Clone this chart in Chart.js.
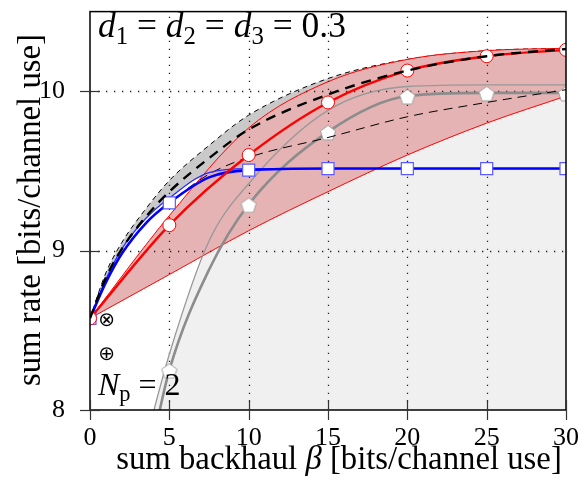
<!DOCTYPE html>
<html>
<head>
<meta charset="utf-8">
<script src="https://cdn.jsdelivr.net/npm/chart.js@4.4.1/dist/chart.umd.min.js"></script>
<style>
  html, body { margin: 0; padding: 0; background: #fff; }
</style>
</head>
<body>
<canvas id="rateChart" width="585" height="489"></canvas>
<script>
// ---- data ----
const xTicks = [0, 5, 10, 15, 20, 25, 30];
const yTicks = [8, 9, 10];

// coarse grid (markers at every 5)
const xsMark = [0, 5, 10, 15, 20, 25, 30];
const redCircles = [8.575, 9.16, 9.60, 9.93, 10.13, 10.22, 10.26];
const redUpper = [8.575, 9.22, 9.77, 10.06, 10.20, 10.255, 10.27];
const redLower = [8.575, 8.85, 9.125, 9.37, 9.60, 9.80, 9.97];

// finer grid for the curves that rise quickly near zero
const xsFine = [0, 1, 2, 3.5, 5, 7.5, 10, 15, 20, 25, 30];
const blackDashed = [8.575, 8.83, 9.01, 9.21, 9.37, 9.58, 9.76, 9.98, 10.13, 10.22, 10.265];
const grayTop = [8.575, 8.86, 9.05, 9.26, 9.44, 9.66, 9.85, 10.08, 10.20, 10.255, 10.27];
const blueSquares = [8.575, 8.80, 8.98, 9.17, 9.30, 9.46, 9.505, 9.515, 9.515, 9.515, 9.515];
const blueThin = [8.575, 8.82, 9.01, 9.20, 9.33, 9.49, 9.515, 9.515, 9.515, 9.515, 9.515];
const thinDashed = [8.575, 8.80, 8.98, 9.17, 9.30, 9.48, 9.585, 9.71, 9.84, 9.93, 10.01];

// gray curves, start below the axis
const xsGrayThick = [4, 5, 7.5, 10, 15, 20, 25, 30];
const grayThick = [7.82, 8.25, 8.88, 9.29, 9.745, 9.97, 9.99, 9.99];
const xsGrayThin = [3.5, 5, 7.5, 10, 15, 20, 25, 30];
const grayThin = [7.80, 8.35, 9.06, 9.42, 9.88, 10.03, 10.04, 10.04];

// the two symbols next to the origin
const symX = [1.05, 1.05];
const symY = [8.56, 8.345];
const symText = ['\u2297', '\u2295'];

const SERIF = '"Liberation Serif", "DejaVu Serif", serif';

function pts(xs, ys) {
    return xs.map((x, i) => ({ x: x, y: ys[i] }));
}

function markAt(xs, r) {
    return xs.map(x => (x % 5 === 0 ? r : 0));
}

// pentagon marker as an image
function pentagon(size) {
    const c = document.createElement('canvas');
    c.width = size; c.height = size;
    const g = c.getContext('2d');
    const r = size / 2 - 1;
    g.beginPath();
    for (let i = 0; i < 5; i++) {
        const a = -Math.PI / 2 + i * 2 * Math.PI / 5;
        const px = size / 2 + r * Math.cos(a);
        const py = size / 2 + 1.5 + r * Math.sin(a);
        if (i === 0) g.moveTo(px, py); else g.lineTo(px, py);
    }
    g.closePath();
    g.fillStyle = '#fff';
    g.fill();
    g.strokeStyle = '#a0a0a0';
    g.lineWidth = 1;
    g.stroke();
    return c;
}

// draws a run of text pieces, italic / subscript aware
function drawRun(ctx, parts, x, y, size) {
    let cx = x;
    parts.forEach(p => {
        const fs = p.sub ? size * 0.7 : size;
        ctx.font = (p.it ? 'italic ' : '') + fs + 'px ' + SERIF;
        ctx.fillText(p.t, cx, p.sub ? y + size * 0.2 : y);
        cx += ctx.measureText(p.t).width;
    });
    return cx - x;
}

function runWidth(ctx, parts, size) {
    let w = 0;
    parts.forEach(p => {
        const fs = p.sub ? size * 0.7 : size;
        ctx.font = (p.it ? 'italic ' : '') + fs + 'px ' + SERIF;
        w += ctx.measureText(p.t).width;
    });
    return w;
}

// font size so that a run spans the given width
function sizeFor(ctx, parts, width) {
    return 20 * width / runWidth(ctx, parts, 20);
}

const GRID_AFTER = 3; // index of red lower line: grid goes on top of the fills

const decor = {
    id: 'decor',
    afterDatasetDraw(chart, args) {
        if (args.index !== GRID_AFTER) return;
        const { ctx, chartArea: a, scales: { x, y } } = chart;
        ctx.save();
        ctx.strokeStyle = '#222';
        ctx.lineWidth = 1.3;
        ctx.setLineDash([1.3, 6.7]);
        xTicks.slice(1, -1).forEach(v => {
            const px = Math.round(x.getPixelForValue(v)) + 0.5;
            ctx.beginPath(); ctx.moveTo(px, a.bottom); ctx.lineTo(px, a.top); ctx.stroke();
        });
        yTicks.slice(1).forEach(v => {
            const py = Math.round(y.getPixelForValue(v)) + 0.5;
            ctx.beginPath(); ctx.moveTo(a.left, py); ctx.lineTo(a.right, py); ctx.stroke();
        });
        ctx.restore();
    },
    afterDraw(chart) {
        const { ctx, chartArea: a, scales: { x, y } } = chart;
        ctx.save();
        // frame
        ctx.strokeStyle = '#000';
        ctx.lineWidth = 1.5;
        ctx.strokeRect(a.left, a.top, a.right - a.left, a.bottom - a.top);
        // tick marks crossing the axes
        ctx.strokeStyle = '#333';
        ctx.lineWidth = 1.2;
        xTicks.forEach(v => {
            const px = Math.round(x.getPixelForValue(v)) + 0.5;
            ctx.beginPath(); ctx.moveTo(px, a.bottom - 10); ctx.lineTo(px, a.bottom + 10); ctx.stroke();
        });
        yTicks.forEach(v => {
            const py = Math.round(y.getPixelForValue(v)) + 0.5;
            ctx.beginPath(); ctx.moveTo(a.left - 10, py); ctx.lineTo(a.left + 10, py); ctx.stroke();
        });

        ctx.fillStyle = '#000';
        ctx.textBaseline = 'alphabetic';
        ctx.textAlign = 'left';

        // annotations
        const dText = [
            { t: 'd', it: true }, { t: '1', sub: true }, { t: ' = ' },
            { t: 'd', it: true }, { t: '2', sub: true }, { t: ' = ' },
            { t: 'd', it: true }, { t: '3', sub: true }, { t: ' = 0.3' }
        ];
        drawRun(ctx, dText, 98, 37, sizeFor(ctx, dText, 248));
        drawRun(ctx, [{ t: 'N', it: true }, { t: 'p', sub: true }, { t: ' = 2' }], 98, 395, 32);

        ctx.textAlign = 'center';
        ctx.textBaseline = 'middle';
        ctx.font = '20px "DejaVu Sans", sans-serif';
        symText.forEach((s, i) => {
            ctx.fillText(s, x.getPixelForValue(symX[i]), y.getPixelForValue(symY[i]));
        });

        // axis titles, same size for both
        ctx.textBaseline = 'alphabetic';
        ctx.textAlign = 'left';
        const yt = [{ t: 'sum rate [bits/channel use]' }];
        const titleSize = sizeFor(ctx, yt, 352);
        const xt = [{ t: 'sum backhaul ' }, { t: '\u03b2', it: true }, { t: ' [bits/channel use]' }];
        const xw = runWidth(ctx, xt, titleSize);
        drawRun(ctx, xt, 339 - xw / 2, 469, titleSize);

        ctx.translate(40, 386);
        ctx.rotate(-Math.PI / 2);
        drawRun(ctx, yt, 0, 0, titleSize);
        ctx.restore();
    }
};

function fixX(s) {
    s.height = 79;
    s.paddingLeft = 0; s.paddingRight = 0;
}
function fixY(s) {
    s.width = 90;
    s.paddingTop = 0; s.paddingBottom = 0;
}

const ctx = document.getElementById('rateChart').getContext('2d');
new Chart(ctx, {
    type: 'line',
    data: {
        datasets: [
            {   // 0: gray band, upper thin dashed edge down to the thin blue curve
                data: pts(xsFine, grayTop),
                borderColor: '#000', borderWidth: 1, borderDash: [5, 4],
                backgroundColor: '#c9c9c9', fill: 7,
                pointRadius: 0, cubicInterpolationMode: 'monotone', order: 20
            },
            {   // 1: light gray area under thin gray curve
                data: pts(xsGrayThin, grayThin),
                borderWidth: 0, backgroundColor: '#f0f0f0', fill: 'start',
                pointRadius: 0, cubicInterpolationMode: 'monotone', order: 19
            },
            {   // 2: red band upper edge
                data: pts(xsMark, redUpper),
                borderColor: '#ff0000', borderWidth: 1,
                backgroundColor: '#e5b3b3', fill: 3,
                pointRadius: 0, cubicInterpolationMode: 'monotone', order: 18
            },
            {   // 3: red band lower edge
                data: pts(xsMark, redLower),
                borderColor: '#ff0000', borderWidth: 1,
                pointRadius: 0, cubicInterpolationMode: 'monotone', order: 17
            },
            {   // 4: thin gray
                data: pts(xsGrayThin, grayThin),
                borderColor: '#999', borderWidth: 1.3,
                pointRadius: 0, cubicInterpolationMode: 'monotone', order: 16
            },
            {   // 5: thick gray with pentagons
                data: pts(xsGrayThick, grayThick),
                borderColor: '#8c8c8c', borderWidth: 2.6,
                pointStyle: pentagon(18),
                pointRadius: markAt(xsGrayThick, 9),
                cubicInterpolationMode: 'monotone', order: 15
            },
            {   // 6: thin black dashed
                data: pts(xsFine, thinDashed),
                borderColor: '#000', borderWidth: 1, borderDash: [9, 6],
                pointRadius: 0, cubicInterpolationMode: 'monotone', order: 14
            },
            {   // 7: thin blue
                data: pts(xsFine, blueThin),
                borderColor: '#2a2aff', borderWidth: 1.3,
                pointRadius: 0, cubicInterpolationMode: 'monotone', order: 13
            },
            {   // 8: blue with squares
                data: pts(xsFine, blueSquares),
                borderColor: '#0000ff', borderWidth: 2.6,
                pointStyle: 'rect',
                pointRadius: markAt(xsFine, 8.5),
                pointBackgroundColor: '#fff', pointBorderColor: '#5a5aff', pointBorderWidth: 1.2,
                cubicInterpolationMode: 'monotone', order: 12
            },
            {   // 9: red with circles
                data: pts(xsMark, redCircles),
                borderColor: '#ff0000', borderWidth: 2.4,
                pointStyle: 'circle', pointRadius: 6.5,
                pointBackgroundColor: '#fff', pointBorderColor: '#ff0000', pointBorderWidth: 1,
                cubicInterpolationMode: 'monotone', order: 11
            },
            {   // 10: thick black dashed
                data: pts(xsFine, blackDashed),
                borderColor: '#000', borderWidth: 2.4, borderDash: [10, 7],
                pointRadius: 0, cubicInterpolationMode: 'monotone', order: 10
            }
        ]
    },
    options: {
        responsive: false,
        animation: false,
        events: [],
        layout: { padding: { top: 9, right: 19, left: 0, bottom: 0 } },
        plugins: { legend: { display: false }, tooltip: { enabled: false } },
        scales: {
            x: {
                type: 'linear', min: 0, max: 30,
                afterBuildTicks: s => { s.ticks = xTicks.map(v => ({ value: v })); },
                afterFit: fixX,
                grid: { display: false, drawTicks: false },
                border: { display: false },
                ticks: { color: '#000', font: { family: SERIF, size: 26 }, padding: 13, maxRotation: 0, autoSkip: false }
            },
            y: {
                type: 'linear', min: 8, max: 10.5,
                afterBuildTicks: s => { s.ticks = yTicks.map(v => ({ value: v })); },
                afterFit: fixY,
                grid: { display: false, drawTicks: false },
                border: { display: false },
                ticks: { color: '#000', font: { family: SERIF, size: 26 }, padding: 25 }
            }
        }
    },
    plugins: [decor]
});
</script>
</body>
</html>
